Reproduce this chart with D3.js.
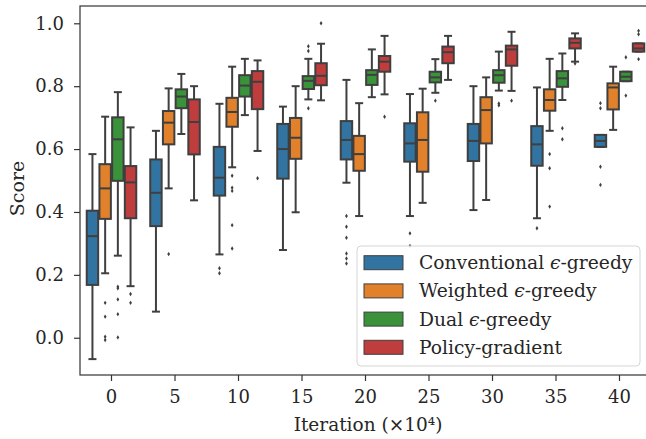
<!DOCTYPE html>
<html>
<head>
<meta charset="utf-8">
<script src="https://cdn.jsdelivr.net/npm/d3@7/dist/d3.min.js"></script>
<style>
  html, body { margin: 0; padding: 0; background: #fff; }
  svg { display: block; font-family: "DejaVu Serif", "Liberation Serif", serif; }
  .axis path, .axis line { stroke: #333; stroke-width: 1.2; }
  .axis text { fill: #262626; font-size: 18px; font-family: "DejaVu Serif", serif; }
</style>
</head>
<body>
<svg id="chart" width="646" height="439"></svg>
<script>
// iterations (x10^4) and series
var iterations = [0, 5, 10, 15, 20, 25, 30, 35, 40];
var seriesNames = ['Conventional', 'Weighted', 'Dual', 'Policy-gradient'];
var yTicks = [0.0, 0.2, 0.4, 0.6, 0.8, 1.0];

// [whisker low, q1, median, q3, whisker high] per iteration
var conventional = [
  [-0.068, 0.168, 0.323, 0.404, 0.584],
  [0.083, 0.355, 0.461, 0.567, 0.658],
  [0.265, 0.452, 0.509, 0.607, 0.744],
  [0.279, 0.506, 0.600, 0.680, 0.735],
  [0.493, 0.567, 0.629, 0.689, 0.820],
  [0.387, 0.560, 0.618, 0.682, 0.775],
  [0.406, 0.562, 0.626, 0.680, 0.800],
  [0.380, 0.547, 0.615, 0.673, 0.796],
  [0.607, 0.607, 0.626, 0.645, 0.645]
];
var weighted = [
  [0.205, 0.378, 0.475, 0.552, 0.703],
  [0.475, 0.615, 0.684, 0.721, 0.793],
  [0.542, 0.671, 0.718, 0.763, 0.862],
  [0.399, 0.569, 0.636, 0.699, 0.800],
  [0.387, 0.531, 0.584, 0.642, 0.746],
  [0.429, 0.528, 0.629, 0.717, 0.792],
  [0.438, 0.618, 0.724, 0.765, 0.828],
  [0.658, 0.722, 0.756, 0.790, 0.887],
  [0.661, 0.726, 0.796, 0.809, 0.862]
];
var dual = [
  [0.261, 0.499, 0.631, 0.701, 0.781],
  [0.648, 0.730, 0.767, 0.790, 0.839],
  [0.708, 0.767, 0.802, 0.835, 0.887],
  [0.758, 0.791, 0.817, 0.832, 0.887],
  [0.765, 0.804, 0.836, 0.851, 0.917],
  [0.779, 0.812, 0.828, 0.846, 0.886],
  [0.786, 0.811, 0.835, 0.851, 0.910],
  [0.756, 0.798, 0.825, 0.848, 0.904],
  [0.816, 0.816, 0.830, 0.846, 0.846]
];
var policy = [
  [0.164, 0.380, 0.494, 0.546, 0.669],
  [0.437, 0.583, 0.686, 0.758, 0.800],
  [0.594, 0.727, 0.814, 0.848, 0.882],
  [0.755, 0.803, 0.833, 0.873, 0.935],
  [0.774, 0.846, 0.878, 0.896, 0.960],
  [0.820, 0.873, 0.908, 0.926, 0.960],
  [0.785, 0.865, 0.917, 0.929, 0.973],
  [0.878, 0.920, 0.938, 0.952, 0.968],
  [0.910, 0.910, 0.920, 0.936, 0.936]
];

// outliers per iteration
var conventionalOut = [[], [], [0.221, 0.205], [], [0.387, 0.353, 0.318, 0.268, 0.252, 0.236], [0.332, 0.292], [], [0.348], [0.746, 0.730, 0.544, 0.486]];
var weightedOut = [[0.111, 0.067, 0.003, -0.007], [0.266], [0.515, 0.477, 0.467, 0.358, 0.284], [], [], [], [], [0.584, 0.539, 0.417], []];
var dualOut = [[0.162, 0.157, 0.122, 0.075, 0.001], [], [], [0.927, 0.912, 0.730], [], [0.754], [0.745, 0.739], [0.666, 0.631], [0.892, 0.770]];
var policyOut = [[0.139, 0.111], [], [0.507], [1.000], [0.703], [], [0.754], [0.872], [0.976, 0.965, 0.886]];

var colors = ['#3274a1', '#e1812c', '#3a923a', '#c03d3e'];
var lineColor = '#3f3f3f';

var stats = [conventional, weighted, dual, policy];
var outs = [conventionalOut, weightedOut, dualOut, policyOut];

var W = 646, H = 439;
var margin = {left: 80, top: 6, bottom: 64};
var plotBottom = H - margin.bottom;

var svg = d3.select('#chart');

var x = d3.scaleBand()
    .domain(iterations)
    .range([79.75, 79.75 + 63.5 * iterations.length]);

var hue = d3.scaleBand()
    .domain(seriesNames)
    .range([0, x.bandwidth() * 0.8]);

var y = d3.scaleLinear()
    .domain([-0.1185, 1.055])
    .range([plotBottom, margin.top]);

svg.append('clipPath').attr('id', 'plot-clip')
    .append('rect')
    .attr('x', margin.left).attr('y', margin.top)
    .attr('width', W - margin.left).attr('height', plotBottom - margin.top);

var plot = svg.append('g').attr('clip-path', 'url(#plot-clip)');

var boxW = hue.bandwidth() * 0.9;
var capW = boxW * 0.7;

// flatten into one record per box
var boxes = [];
seriesNames.forEach(function(name, s) {
    iterations.forEach(function(it, i) {
        var v = stats[s][i];
        boxes.push({
            series: name, idx: s, it: it,
            lo: v[0], q1: v[1], med: v[2], q3: v[3], hi: v[4],
            out: outs[s][i],
            cx: x(it) + x.bandwidth() * 0.1 + hue(name) + hue.bandwidth() / 2
        });
    });
});

var g = plot.selectAll('g.box')
    .data(boxes)
    .enter()
    .append('g')
    .attr('class', 'box');

// whiskers
g.append('line')
    .attr('x1', function(d){ return d.cx; })
    .attr('x2', function(d){ return d.cx; })
    .attr('y1', function(d){ return y(d.q3); })
    .attr('y2', function(d){ return y(d.hi); })
    .attr('stroke', lineColor).attr('stroke-width', 2);
g.append('line')
    .attr('x1', function(d){ return d.cx; })
    .attr('x2', function(d){ return d.cx; })
    .attr('y1', function(d){ return y(d.q1); })
    .attr('y2', function(d){ return y(d.lo); })
    .attr('stroke', lineColor).attr('stroke-width', 2);

// caps
['hi', 'lo'].forEach(function(k) {
    g.append('line')
        .attr('x1', function(d){ return d.cx - capW / 2; })
        .attr('x2', function(d){ return d.cx + capW / 2; })
        .attr('y1', function(d){ return y(d[k]); })
        .attr('y2', function(d){ return y(d[k]); })
        .attr('stroke', lineColor).attr('stroke-width', 2);
});

g.append('rect')
    .attr('x', function(d){ return d.cx - boxW / 2; })
    .attr('width', boxW)
    .attr('y', function(d){ return y(d.q3); })
    .attr('height', function(d){ return y(d.q1) - y(d.q3); })
    .attr('fill', function(d){ return colors[d.idx]; })
    .attr('stroke', lineColor).attr('stroke-width', 2);

g.append('line')
    .attr('x1', function(d){ return d.cx - boxW / 2; })
    .attr('x2', function(d){ return d.cx + boxW / 2; })
    .attr('y1', function(d){ return y(d.med); })
    .attr('y2', function(d){ return y(d.med); })
    .attr('stroke', lineColor).attr('stroke-width', 2);

// fliers, thin diamonds
g.selectAll('path.flier')
    .data(function(d){ return d.out.map(function(v){ return {cx: d.cx, v: v}; }); })
    .enter()
    .append('path')
    .attr('class', 'flier')
    .attr('d', function(d){
        var cx = d.cx, cy = y(d.v);
        return 'M' + cx + ',' + (cy - 2.2) + 'L' + (cx + 1.4) + ',' + cy +
               'L' + cx + ',' + (cy + 2.2) + 'L' + (cx - 1.4) + ',' + cy + 'Z';
    })
    .attr('fill', lineColor);

// axes
var xAxis = d3.axisBottom(x).tickSize(6).tickSizeOuter(0).tickPadding(9);
var yAxis = d3.axisLeft(y).tickValues(yTicks).tickFormat(d3.format('.1f'))
    .tickSize(6).tickSizeOuter(0).tickPadding(10);

svg.append('g').attr('class', 'axis')
    .attr('transform', 'translate(0,' + plotBottom + ')')
    .call(xAxis)
    .select('.domain').remove();

svg.append('g').attr('class', 'axis')
    .attr('transform', 'translate(' + margin.left + ',0)')
    .call(yAxis)
    .select('.domain').remove();

// frame
svg.append('rect')
    .attr('x', margin.left).attr('y', margin.top)
    .attr('width', W - margin.left + 10).attr('height', plotBottom - margin.top)
    .attr('fill', 'none').attr('stroke', '#333').attr('stroke-width', 1.2);

svg.append('text')
    .attr('x', (margin.left + W) / 2 + 5)
    .attr('y', 431)
    .attr('text-anchor', 'middle')
    .attr('font-size', 18.5)
    .attr('fill', '#262626')
    .text('Iteration (×10⁴)');

svg.append('text')
    .attr('transform', 'translate(24,' + ((margin.top + plotBottom) / 2 - 2) + ') rotate(-90)')
    .attr('text-anchor', 'middle')
    .attr('font-size', 19)
    .attr('fill', '#262626')
    .text('Score');

// legend
var legendLabels = [
    ['Conventional ', 'ϵ', '-greedy'],
    ['Weighted ', 'ϵ', '-greedy'],
    ['Dual ', 'ϵ', '-greedy'],
    ['Policy-gradient', '', '']
];
var legend = svg.append('g').attr('transform', 'translate(357,246)');
legend.append('rect')
    .attr('width', 283).attr('height', 120)
    .attr('rx', 4).attr('ry', 4)
    .attr('fill', '#fff').attr('fill-opacity', 0.8)
    .attr('stroke', '#d5d5d5').attr('stroke-width', 1);

var item = legend.selectAll('g.item')
    .data(legendLabels)
    .enter()
    .append('g')
    .attr('class', 'item')
    .attr('transform', function(d, i){ return 'translate(0,' + (16.7 + i * 28.2) + ')'; });

item.append('rect')
    .attr('x', 7).attr('y', -7)
    .attr('width', 39).attr('height', 14)
    .attr('fill', function(d, i){ return colors[i]; })
    .attr('stroke', lineColor).attr('stroke-width', 1);

var txt = item.append('text')
    .attr('x', 62).attr('y', 6.5)
    .attr('font-size', 18.7)
    .attr('fill', '#262626');
txt.append('tspan').text(function(d){ return d[0]; });
txt.append('tspan').attr('font-style', 'italic').text(function(d){ return d[1]; });
txt.append('tspan').text(function(d){ return d[2]; });
</script>
</body>
</html>
